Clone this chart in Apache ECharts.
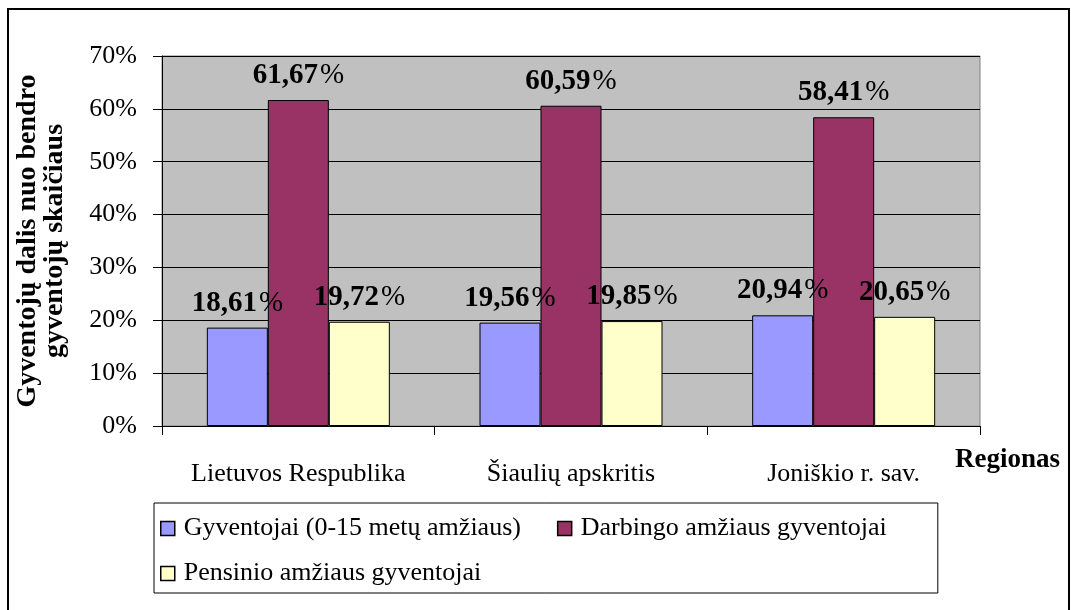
<!DOCTYPE html>
<html>
<head>
<meta charset="utf-8">
<script src="https://cdn.jsdelivr.net/npm/echarts@6/dist/echarts.min.js"></script>
<style>
html,body{margin:0;padding:0;background:#fff;}
#c{width:1071px;height:610px;}
</style>
</head>
<body>
<div id="c"></div>
<script>
const categories = ['Lietuvos Respublika', 'Šiaulių apskritis', 'Joniškio r. sav.'];
const seriesNames = ['Gyventojai (0-15 metų amžiaus)', 'Darbingo amžiaus gyventojai', 'Pensinio amžiaus gyventojai'];
const youngValues = [18.61, 19.56, 20.94];
const workingValues = [61.67, 60.59, 58.41];
const pensionValues = [19.72, 19.85, 20.65];
const yTicks = [0, 10, 20, 30, 40, 50, 60, 70];
const colors = ['#9999FF', '#993366', '#FFFFCC'];

const FONT = "'Times New Roman', 'Liberation Serif', serif";

function mkSeries(name, data, color) {
  return {
    name: name,
    type: 'bar',
    data: data,
    barWidth: 61,
    barGap: '0%',
    itemStyle: { color: color, borderColor: '#000', borderWidth: 1 },
    label: {
      show: true,
      position: 'top',
      distance: 10,
      formatter: function (p) {
        return '{b|' + p.value.toFixed(2).replace('.', ',') + '}{p|%}';
      },
      rich: {
        b: { fontFamily: FONT, fontSize: 29, fontWeight: 'bold', color: '#000' },
        p: { fontFamily: FONT, fontSize: 29, fontWeight: 'normal', color: '#000', padding: [0, 0, 0, 2] }
      }
    }
  };
}

const chart = echarts.init(document.getElementById('c'), null, { renderer: 'canvas' });
chart.setOption({
  animation: false,
  backgroundColor: '#fff',
  textStyle: { fontFamily: FONT },
  grid: {
    left: 162, right: 91, top: 56, bottom: 184,
    show: true, backgroundColor: '#C0C0C0', borderColor: '#808080', borderWidth: 1
  },
  legend: {
    left: 154, top: 503,
    width: 820,
    padding: [8, 51, 2, 6],
    borderColor: '#000', borderWidth: 1,
    itemWidth: 14, itemHeight: 14, itemGap: 10,
    icon: 'rect',
    itemStyle: { borderColor: '#000', borderWidth: 1.5 },
    textStyle: { fontFamily: FONT, fontSize: 26, color: '#000', lineHeight: 35, padding: [0, 0, 0, 4] },
    data: [
      { name: seriesNames[0], textStyle: { padding: [0, 26, 0, 4] } },
      { name: seriesNames[1] },
      { name: seriesNames[2] }
    ]
  },
  xAxis: {
    type: 'category',
    data: categories,
    name: 'Regionas',
    nameLocation: 'end',
    nameGap: -25,
    nameTextStyle: { fontFamily: FONT, fontSize: 27, fontWeight: 'bold', color: '#000', verticalAlign: 'top', padding: [21, 0, 0, 0] },
    axisLine: { lineStyle: { color: '#000', width: 1 } },
    axisTick: { show: true, length: 9, lineStyle: { color: '#000' } },
    axisLabel: { fontFamily: FONT, fontSize: 26, color: '#000', margin: 35, interval: 0 },
    splitLine: { show: false }
  },
  yAxis: {
    type: 'value',
    min: yTicks[0], max: yTicks[yTicks.length - 1], interval: 10,
    name: 'Gyventojų dalis nuo bendro\ngyventojų skaičiaus',
    nameLocation: 'middle',
    nameRotate: 90,
    nameGap: 94,
    nameTextStyle: { fontFamily: FONT, fontSize: 28, fontWeight: 'bold', color: '#000', lineHeight: 27, align: 'center' },
    axisLine: { show: true, lineStyle: { color: '#000', width: 1 } },
    axisTick: { show: true, length: 9, lineStyle: { color: '#000' } },
    axisLabel: { fontFamily: FONT, fontSize: 26, color: '#000', margin: 25, formatter: '{value}%' },
    splitLine: { show: true, lineStyle: { color: '#000', width: 1 } }
  },
  graphic: [
    { type: 'polyline', shape: { points: [[8, 615], [8, 9], [1069, 9], [1069, 615]] },
      style: { stroke: '#000', lineWidth: 2, fill: null }, silent: true }
  ],
  series: [
    mkSeries(seriesNames[0], youngValues, colors[0]),
    mkSeries(seriesNames[1], workingValues, colors[1]),
    mkSeries(seriesNames[2], pensionValues, colors[2])
  ]
});
</script>
</body>
</html>
